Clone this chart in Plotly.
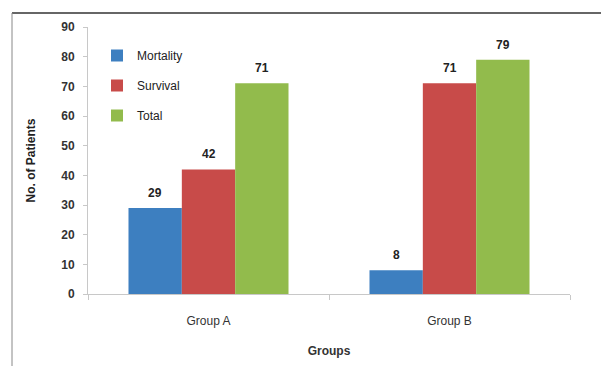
import plotly.graph_objects as go

groups = ["Group A", "Group B"]
series_names = ["Mortality", "Survival", "Total"]
mortality = [29, 8]
survival = [42, 71]
total = [71, 79]
y_ticks = [0, 10, 20, 30, 40, 50, 60, 70, 80, 90]

colors = ["#3d7fc0", "#c84b49", "#92bb4c"]
font = "Liberation Sans, Arial, sans-serif"
bargap = 0.336

fig = go.Figure()
all_vals = [mortality, survival, total]
for i, (name, vals) in enumerate(zip(series_names, all_vals)):
    fig.add_trace(go.Bar(
        x=groups, y=vals, name=name, marker_color=colors[i], marker_line_width=0,
        legendgroup=name,
    ))

# data labels placed on the category axis (bar offsets in axis units)
bw = (1 - bargap) / len(series_names)
annotations = []
for i, vals in enumerate(all_vals):
    for g, v in enumerate(vals):
        annotations.append(dict(
            x=g + (i - 1) * bw, y=v, xref="x", yref="y", text=str(v), showarrow=False,
            yanchor="middle", yshift=15,
            font=dict(family=font, size=12, color="#222222", weight="bold"),
        ))

W, H = 601, 366
L, R, T, B = 88, 31, 27, 72
pw, ph = W - L - R, H - T - B

def px(x):
    return (x - L) / pw

def py(y):
    return (H - B - y) / ph

fig.update_layout(
    width=W, height=H,
    margin=dict(l=L, r=R, t=T, b=B),
    paper_bgcolor="white", plot_bgcolor="white",
    barmode="group", bargap=bargap, bargroupgap=0,
    font=dict(family=font, size=11, color="#222222"),
    showlegend=True,
    legend=dict(x=px(97), y=py(41), xanchor="left", yanchor="top",
                traceorder="grouped", tracegroupgap=11,
                font=dict(size=12, color="#222222", family=font),
                bgcolor="rgba(0,0,0,0)", itemwidth=30),
    annotations=annotations,
    xaxis=dict(showline=True, linecolor="#c8c8c8", linewidth=1, automargin=False,
               ticks="outside", tickson="boundaries", ticklen=5, tickcolor="#c8c8c8",
               ticklabelstandoff=16,
               tickfont=dict(size=12, color="#333333"),
               title=dict(text="Groups", font=dict(size=12, weight="bold", color="#333333"), standoff=19)),
    yaxis=dict(range=[0, 90], tickvals=y_ticks, showgrid=False, zeroline=False, automargin=False,
               showline=True, linecolor="#c8c8c8", linewidth=1,
               ticks="outside", ticklen=4, tickcolor="#c8c8c8",
               ticklabelstandoff=6,
               tickfont=dict(size=12, color="#333333", weight="bold"),
               title=dict(text="No. of Patients", font=dict(size=12, weight="bold", color="#222222"), standoff=23)),
    shapes=[
        dict(type="line", xref="paper", yref="paper", x0=px(12), x1=px(601), y0=py(13), y1=py(13),
             line=dict(color="#333333", width=1.5)),
        dict(type="line", xref="paper", yref="paper", x0=px(12), x1=px(12), y0=py(13), y1=py(366),
             line=dict(color="#888888", width=1)),
    ],
)

fig.write_html("out.html")
